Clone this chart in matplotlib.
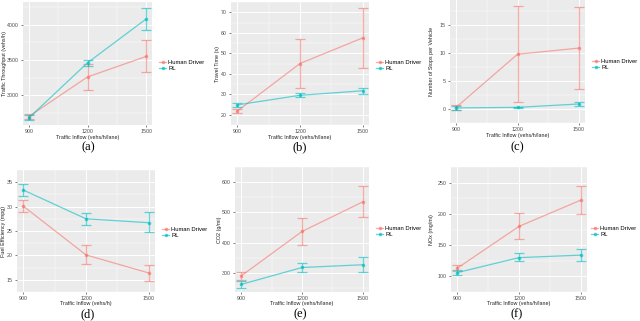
import matplotlib
matplotlib.use("Agg")
import matplotlib.pyplot as plt
from matplotlib.lines import Line2D

plt.rcParams["font.family"] = ["Liberation Sans", "DejaVu Sans"]

W, H = 640, 321
x_vals = [900, 1200, 1500]
series = ["Human Driver", "RL"]
colors = {"Human Driver": "#F8766D", "RL": "#00BFC4"}

# (a) throughput
a_h = [2700, 3260, 3550]; a_h_lo = [2670, 3080, 3330]; a_h_hi = [2730, 3440, 3780]
a_r = [2680, 3460, 4080]; a_r_lo = [2650, 3420, 3930]; a_r_hi = [2720, 3500, 4230]
# (b) travel time
b_h = [21.8, 45, 57.5]; b_h_lo = [21.0, 33, 42.8]; b_h_hi = [22.6, 57, 72.3]
b_r = [24.8, 29.5, 31.7]; b_r_lo = [24.0, 28.6, 30.2]; b_r_hi = [25.7, 30.4, 33.2]
# (c) stops
c_h = [0.3, 9.8, 10.9]; c_h_lo = [-0.1, 1.2, 3.6]; c_h_hi = [0.7, 18.4, 18.2]
c_r = [0.2, 0.3, 0.9]; c_r_lo = [-0.2, 0.15, 0.55]; c_r_hi = [0.5, 0.45, 1.3]
# (d) fuel efficiency
d_h = [30.1, 20.1, 16.4]; d_h_lo = [28.9, 18.3, 14.8]; d_h_hi = [31.4, 22.1, 18.0]
d_r = [33.4, 27.5, 26.7]; d_r_lo = [32.2, 26.2, 24.7]; d_r_hi = [34.6, 28.7, 28.8]
# (e) CO2
e_h = [290, 437, 535]; e_h_lo = [277, 391, 484]; e_h_hi = [303, 482, 586]
e_r = [262, 318, 327]; e_r_lo = [251, 303, 303]; e_r_hi = [272, 333, 351]
# (f) NOx
f_h = [113, 180, 222]; f_h_lo = [109, 160, 200]; f_h_hi = [118, 201, 245]
f_r = [106, 130, 134]; f_r_lo = [102, 124, 124]; f_r_hi = [110, 137, 144]

panels = [
    dict(box=(23, 2, 152, 125), ylim=(2580, 4320), yticks=[3000, 3500, 4000],
         ylabel="Traffic Throughput (vehs/h)", xlabel="Traffic Inflow (vehs/h/lane)",
         data=[(a_h, a_h_lo, a_h_hi), (a_r, a_r_lo, a_r_hi)], cap="(a)", capxy=(88, 147),
         leg=(159, 62), ylx=5, xly=137.5),
    dict(box=(231, 2, 369, 125), ylim=(18.6, 75), yticks=[20, 30, 40, 50, 60, 70],
         ylabel="Travel Time (s)", xlabel="Traffic Inflow (vehs/h/lane)",
         data=[(b_h, b_h_lo, b_h_hi), (b_r, b_r_lo, b_r_hi)], cap="(b)", capxy=(300, 147),
         leg=(376, 62), ylx=217, xly=137.5),
    dict(box=(450, 0, 585, 123), ylim=(-0.8, 19.5), yticks=[0, 5, 10, 15],
         ylabel="Number of Stops per Vehicle", xlabel="Traffic Inflow (vehs/h/lane)",
         data=[(c_h, c_h_lo, c_h_hi), (c_r, c_r_lo, c_r_hi)], cap="(c)", capxy=(517, 147),
         leg=(592, 61), ylx=432, xly=136),
    dict(box=(17, 170, 155, 292), ylim=(13.9, 35.9), yticks=[15, 20, 25, 30, 35],
         ylabel="Fuel Efficiency (mpg)", xlabel="Traffic Inflow (vehs/h)",
         data=[(d_h, d_h_lo, d_h_hi), (d_r, d_r_lo, d_r_hi)], cap="(d)", capxy=(88, 314),
         leg=(162, 229), ylx=4, xly=303.5),
    dict(box=(235, 167, 369, 292), ylim=(237, 610), yticks=[300, 400, 500, 600],
         ylabel="CO2 (g/mi)", xlabel="Traffic Inflow (vehs/h/lane)",
         data=[(e_h, e_h_lo, e_h_hi), (e_r, e_r_lo, e_r_hi)], cap="(e)", capxy=(300, 314),
         leg=(376, 228), ylx=220, xly=303),
    dict(box=(451, 167, 587, 292), ylim=(95, 253), yticks=[100, 150, 200, 250],
         ylabel="NOx (mg/mi)", xlabel="Traffic Inflow (vehs/h/lane)",
         data=[(f_h, f_h_lo, f_h_hi), (f_r, f_r_lo, f_r_hi)], cap="(f)", capxy=(517, 314),
         leg=(591, 228), ylx=431, xly=303.5),
]

fig = plt.figure(figsize=(W / 100, H / 100), dpi=100)
fs_tick, fs_lab, fs_leg = 3.8, 3.9, 4.2
for p in panels:
    x0, y0, x1, y1 = p["box"]
    ax = fig.add_axes([x0 / W, 1 - y1 / H, (x1 - x0) / W, (y1 - y0) / H])
    ax.set_facecolor("#EBEBEB")
    for s in ax.spines.values():
        s.set_visible(False)
    ax.set_xlim(870, 1530)
    ax.set_ylim(*p["ylim"])
    ax.set_xticks(x_vals)
    ax.set_xticklabels([str(v) for v in x_vals])
    ax.set_yticks(p["yticks"])
    ax.set_xticks([1050, 1350], minor=True)
    yt = p["yticks"]
    step = yt[1] - yt[0]
    ax.set_yticks([v + step / 2 for v in [yt[0] - step] + yt], minor=True)
    ax.grid(True, which="major", color="white", lw=0.7)
    ax.grid(True, which="minor", color="white", lw=0.35)
    ax.set_axisbelow(True)
    ax.tick_params(axis="both", which="major", labelsize=fs_tick, colors="#4D4D4D",
                   length=1.5, width=0.5, pad=1.5)
    ax.tick_params(axis="both", which="minor", length=0)
    ax.set_ylabel(p["ylabel"], fontsize=fs_lab, color="#222222")
    ax.set_xlabel(p["xlabel"], fontsize=fs_lab, color="#222222")
    ax.yaxis.set_label_coords((p["ylx"] - x0) / (x1 - x0), 0.5)
    ax.xaxis.set_label_coords(0.5, (y1 - p["xly"]) / (y1 - y0))
    ax.yaxis.label.set_va("center")
    ax.xaxis.label.set_va("center")
    for name, (m, lo, hi) in zip(series, p["data"]):
        c = colors[name]
        ax.plot(x_vals, m, color=c, lw=0.9, alpha=0.6, marker="o", ms=1.6, zorder=3)
        err = [[mi - l for mi, l in zip(m, lo)], [h - mi for mi, h in zip(m, hi)]]
        ax.errorbar(x_vals, m, yerr=err, fmt="none", ecolor=c, elinewidth=0.9,
                    capsize=3.8, capthick=0.9, alpha=0.6, zorder=3)
    cx, cy = p["capxy"]
    fig.text(cx / W, 1 - cy / H, p["cap"], family="Liberation Serif", fontsize=9,
             ha="center", va="center")
    lx, ly = p["leg"]
    handles = [Line2D([0], [0], color=colors[n], lw=0.9, alpha=0.6, marker="o", ms=1.6)
               for n in series]
    fig.legend(handles, series, loc="center left",
               bbox_to_anchor=(lx / W, 1 - (ly + 3.5) / H), fontsize=fs_leg, frameon=False,
               handlelength=1.2, handletextpad=0.4, labelspacing=0.3,
               borderpad=0, borderaxespad=0)

fig.savefig("out.png", dpi=100, facecolor="white")
